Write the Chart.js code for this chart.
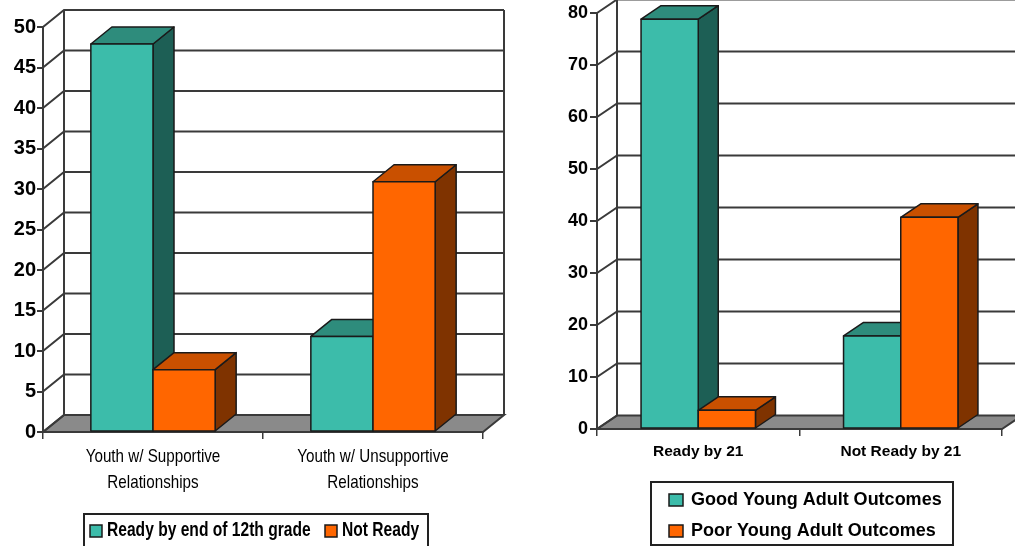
<!DOCTYPE html>
<html>
<head>
<meta charset="utf-8">
<title>Readiness and young adult outcomes</title>
<script src="https://cdn.jsdelivr.net/npm/chart.js@4.4.0/dist/chart.umd.min.js"></script>
<style>
  html, body { margin: 0; padding: 0; background: #fff; }
  body { width: 1015px; height: 546px; position: relative; overflow: hidden; }
  canvas { position: absolute; top: 0; }
  #left-chart { left: 0; }
  #right-chart { left: 510px; }
</style>
</head>
<body>
<canvas id="left-chart" width="510" height="546"></canvas>
<canvas id="right-chart" width="505" height="546"></canvas>
<script>
// --- Data: readiness by end of 12th grade ---
const leftCategories = [["Youth w/ Supportive", "Relationships"], ["Youth w/ Unsupportive", "Relationships"]];
const leftSeriesNames = ["Ready by end of 12th grade", "Not Ready"];
const leftReady = [47.9, 11.8];
const leftNotReady = [7.7, 30.9];
const leftYTicks = [0, 5, 10, 15, 20, 25, 30, 35, 40, 45, 50];

// --- Data: outcomes by readiness at 21 ---
const rightCategories = ["Ready by 21", "Not Ready by 21"];
const rightSeriesNames = ["Good Young Adult Outcomes", "Poor Young Adult Outcomes"];
const rightGood = [78.8, 17.9];
const rightPoor = [3.6, 40.7];
const rightYTicks = [0, 10, 20, 30, 40, 50, 60, 70, 80];

const TEAL = { front: "#3cbcaa", top: "#2e8c7c", side: "#1d5f55" };
const ORANGE = { front: "#ff6600", top: "#c95000", side: "#7f3300" };
const LINE = "#3a3a3a";
const FLOOR = "#8a8a8a";
const FONT = "'Liberation Sans', Arial, sans-serif";

function squeezedText(ctx, text, x, y, font, squeeze, align) {
  ctx.save();
  ctx.font = font;
  ctx.textAlign = align || "center";
  ctx.textBaseline = "middle";
  ctx.fillStyle = "#000";
  ctx.translate(x, y);
  ctx.scale(squeeze, 1);
  ctx.fillText(text, 0, 0);
  ctx.restore();
}

function drawBar3d(ctx, left, right, top, base, dx, dy, colors) {
  ctx.save();
  ctx.lineWidth = 1.5;
  ctx.strokeStyle = "#1a1a1a";
  ctx.lineJoin = "round";
  // side face
  ctx.beginPath();
  ctx.moveTo(right, top);
  ctx.lineTo(right + dx, top + dy);
  ctx.lineTo(right + dx, base + dy);
  ctx.lineTo(right, base);
  ctx.closePath();
  ctx.fillStyle = colors.side;
  ctx.fill();
  ctx.stroke();
  // top face
  ctx.beginPath();
  ctx.moveTo(left, top);
  ctx.lineTo(left + dx, top + dy);
  ctx.lineTo(right + dx, top + dy);
  ctx.lineTo(right, top);
  ctx.closePath();
  ctx.fillStyle = colors.top;
  ctx.fill();
  ctx.stroke();
  // front face
  ctx.beginPath();
  ctx.rect(left, top, right - left, base - top);
  ctx.fillStyle = colors.front;
  ctx.fill();
  ctx.stroke();
  ctx.restore();
}

// walls, floor, 3d bars, category labels and the boxed legend
function boxPlugin(opts) {
  return {
    id: "box3d",
    beforeDraw(chart) {
      const { ctx, chartArea: a } = chart;
      const yScale = chart.scales.y;
      const { dx, dy } = opts;
      ctx.save();
      ctx.lineWidth = 2;
      ctx.strokeStyle = LINE;
      ctx.beginPath();
      ctx.moveTo(a.left, a.bottom);
      ctx.lineTo(a.left + dx, a.bottom + dy);
      ctx.lineTo(a.right + dx, a.bottom + dy);
      ctx.lineTo(a.right, a.bottom);
      ctx.closePath();
      ctx.fillStyle = FLOOR;
      ctx.fill();
      ctx.stroke();
      yScale.ticks.forEach((t) => {
        const py = yScale.getPixelForValue(t.value);
        ctx.beginPath();
        ctx.moveTo(a.left, py);
        ctx.lineTo(a.left + dx, py + dy);
        if (t.value > 0) ctx.lineTo(a.right + dx, py + dy);
        ctx.stroke();
      });
      ctx.beginPath();
      ctx.moveTo(a.left + dx, a.bottom + dy);
      ctx.lineTo(a.left + dx, a.top + dy);
      ctx.moveTo(a.right + dx, a.top + dy);
      ctx.lineTo(a.right + dx, a.bottom + dy);
      ctx.stroke();
      ctx.restore();
    },
    afterDatasetsDraw(chart) {
      const ctx = chart.ctx;
      const n = chart.data.labels.length;
      for (let i = 0; i < n; i++) {
        chart.data.datasets.forEach((ds, di) => {
          const bar = chart.getDatasetMeta(di).data[i];
          const { x, y, base, width } = bar.getProps(["x", "y", "base", "width"], true);
          drawBar3d(ctx, x - width / 2, x + width / 2, y, base, opts.dx, opts.dy, ds.faces);
        });
      }
    },
    afterDraw(chart) {
      const { ctx, chartArea: a } = chart;
      const xScale = chart.scales.x;
      chart.data.labels.forEach((label, i) => {
        const cx = xScale.getPixelForValue(i);
        const lines = Array.isArray(label) ? label : [label];
        lines.forEach((line, li) => {
          squeezedText(ctx, line, cx, a.bottom + opts.labelOffset + li * opts.labelLine, opts.labelFont, opts.labelSqueeze);
        });
      });
      const lg = opts.legend;
      ctx.save();
      ctx.lineWidth = 2;
      ctx.strokeStyle = "#222";
      ctx.strokeRect(lg.x, lg.y, lg.w, lg.h);
      ctx.restore();
      chart.data.datasets.forEach((ds, di) => {
        const item = lg.items[di];
        ctx.save();
        ctx.fillStyle = ds.faces.front;
        ctx.strokeStyle = "#1a1a1a";
        ctx.lineWidth = 1.5;
        ctx.fillRect(item.sx, item.sy, lg.sw, lg.sh);
        ctx.strokeRect(item.sx, item.sy, lg.sw, lg.sh);
        ctx.restore();
        squeezedText(ctx, ds.label, item.tx, item.ty, lg.font, lg.squeeze, "left");
      });
    }
  };
}

function makeChart(canvasId, cfg) {
  return new Chart(document.getElementById(canvasId), {
    type: "bar",
    data: {
      labels: cfg.categories,
      datasets: cfg.series.map((s) => ({
        label: s.name,
        data: s.values,
        faces: s.faces,
        backgroundColor: s.faces.front,
        borderWidth: 0,
        categoryPercentage: 0.565,
        barPercentage: 1
      }))
    },
    options: {
      responsive: false,
      devicePixelRatio: 1,
      animation: false,
      events: [],
      layout: { padding: cfg.padding },
      plugins: { legend: { display: false }, tooltip: { enabled: false } },
      scales: {
        x: {
          ticks: { display: false },
          grid: { offset: true, drawOnChartArea: false, tickLength: 7, color: LINE, lineWidth: 1.5 },
          border: { color: LINE, width: 2 },
          afterFit: (scale) => { scale.height = cfg.xHeight; }
        },
        y: {
          min: 0,
          max: cfg.yTicks[cfg.yTicks.length - 1],
          afterBuildTicks: (scale) => { scale.ticks = cfg.yTicks.map((v) => ({ value: v })); },
          ticks: { color: "#000", padding: cfg.yPad, font: { family: FONT, size: cfg.yFontSize, weight: "bold" } },
          grid: { drawOnChartArea: false, tickLength: cfg.yTickLength, color: LINE, lineWidth: 2 },
          border: { color: LINE, width: 2 },
          afterFit: (scale) => { scale.width = cfg.yWidth; }
        }
      }
    },
    plugins: [boxPlugin(cfg.box)]
  });
}

makeChart("left-chart", {
  categories: leftCategories,
  series: [
    { name: leftSeriesNames[0], values: leftReady, faces: TEAL },
    { name: leftSeriesNames[1], values: leftNotReady, faces: ORANGE }
  ],
  yTicks: leftYTicks,
  yFontSize: 20,
  yPad: 1,
  yTickLength: 6,
  yWidth: 43,
  xHeight: 114,
  padding: { top: 27, right: 27, left: 0, bottom: 0 },
  box: {
    dx: 21, dy: -17,
    labelOffset: 25, labelLine: 26,
    labelFont: "19px " + FONT, labelSqueeze: 0.8,
    legend: {
      x: 84, y: 514, w: 344, h: 42, sw: 12, sh: 12,
      font: "bold 19.5px " + FONT, squeeze: 0.8,
      items: [
        { sx: 90, sy: 525, tx: 107, ty: 531 },
        { sx: 325, sy: 525, tx: 342, ty: 531 }
      ]
    }
  }
});

makeChart("right-chart", {
  categories: rightCategories,
  series: [
    { name: rightSeriesNames[0], values: rightGood, faces: TEAL },
    { name: rightSeriesNames[1], values: rightPoor, faces: ORANGE }
  ],
  yTicks: rightYTicks,
  yFontSize: 18,
  yPad: 2,
  yTickLength: 7,
  yWidth: 87,
  xHeight: 117,
  padding: { top: 13, right: 13, left: 0, bottom: 0 },
  box: {
    dx: 20, dy: -13.5,
    labelOffset: 23, labelLine: 20,
    labelFont: "bold 15.5px " + FONT, labelSqueeze: 1,
    legend: {
      x: 141, y: 482, w: 302, h: 63, sw: 14, sh: 12,
      font: "bold 18px " + FONT, squeeze: 1,
      items: [
        { sx: 159, sy: 494, tx: 181, ty: 500 },
        { sx: 159, sy: 525, tx: 181, ty: 531 }
      ]
    }
  }
});
</script>
</body>
</html>
